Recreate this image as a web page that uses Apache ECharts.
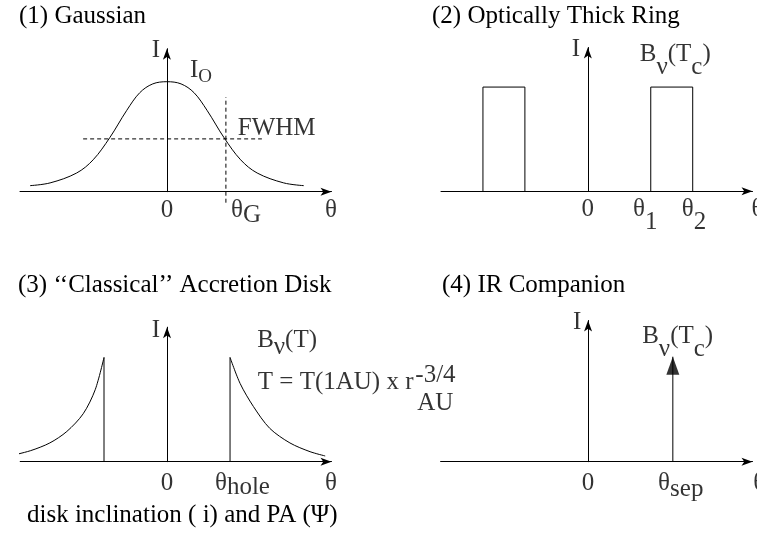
<!DOCTYPE html>
<html>
<head>
<meta charset="utf-8">
<script src="https://cdn.jsdelivr.net/npm/echarts/dist/echarts.min.js"></script>
<style>
  html, body { margin: 0; padding: 0; background: #fff; }
  #c { width: 757px; height: 535px; }
</style>
</head>
<body>
<div id="c"></div>
<script>
// ---- (1) Gaussian: θ in units of θ_G, I in units of I_o ----
const gaussTheta = [-2.32, -1.98, -1.53, -1.25, -0.97, -0.68, -0.46, -0.24, 0, 0.24, 0.46, 0.68, 0.97, 1.25, 1.53, 1.98, 2.32];
const gaussI     = [0.055, 0.08, 0.17, 0.29, 0.49, 0.74, 0.90, 0.98, 1.0, 0.98, 0.90, 0.74, 0.49, 0.29, 0.17, 0.08, 0.055];
const fwhmLevel = 0.48;
const fwhmSpan = [-1.42, 1.61];
const thetaG = 1.0;
const thetaGMarkSpan = [-0.1, 0.86];

// ---- (2) Optically thick ring: θ in units of θ_2, I in units of B_ν(T_c) ----
const ringTheta1 = 0.6;
const ringTheta2 = 1.0;
const ringLevel = 1.0;

// ---- (3) Classical accretion disk: θ in units of θ_hole ----
const diskLeftTheta  = [-2.5, -2.17, -1.86, -1.59, -1.33, -1.14, -1.0];
const diskLeftI      = [0.055, 0.105, 0.18, 0.29, 0.46, 0.69, 1.0];
const diskRightTheta = [1.0, 1.16, 1.37, 1.63, 1.95, 2.27, 2.51];
const diskRightI     = [1.0, 0.75, 0.53, 0.32, 0.18, 0.096, 0.055];
const thetaHole = 1.0;

// ---- (4) IR companion: θ in units of θ_sep ----
const thetaSep = 1.0;
const companionI = 1.0;

// axis extents of the four panels
const thetaMin = [-2.49, -1.40, -2.33, -1.74];
const thetaMax = [2.79, 1.57, 2.61, 1.94];
const intensityMax = [1.30, 1.38, 1.29, 1.345];

// panel titles and annotations
const titles = ['(1) Gaussian', '(2) Optically Thick Ring', '(3) \u2018\u2018Classical\u2019\u2019 Accretion Disk', '(4) IR Companion'];
const footnote = 'disk inclination ( i) and PA (\u03A8)';

const FONT = 'Liberation Serif';
const FS = 25;
const BLACK = '#000';

// main text is top-aligned in its line, subscripts are bottom-aligned;
// the extra line height of a subscript style sets how far it drops
const rich = {
  m: { fontFamily: FONT, fontSize: FS, color: BLACK, lineHeight: FS, verticalAlign: 'top' },
  o: { fontFamily: FONT, fontSize: 19, color: BLACK, lineHeight: 29, verticalAlign: 'bottom' }
};
[4, 5, 6, 7, 13].forEach(d => {
  rich['s' + d] = { fontFamily: FONT, fontSize: FS, color: BLACK, lineHeight: FS + d, verticalAlign: 'bottom' };
});

// text annotations per panel: [θ, I, text, align]
const panelLabels = [
  [
    [-0.186, 1.28, '{m|I}', 'center'],
    [0.39, 1.084, '{m|I}{o|O}', 'left'],
    [1.86, 0.575, '{m|FWHM}', 'center'],
    [0, -0.166, '{m|0}', 'center'],
    [1.085, -0.19, '{m|\u03B8}{s5|G}', 'left'],
    [2.78, -0.166, '{m|\u03B8}', 'center']
  ],
  [
    [-0.114, 1.36, '{m|I}', 'center'],
    [0.495, 1.247, '{m|B}{s7|\u03BD}{m|(T}{s13|c}{m|)}', 'left'],
    [0, -0.176, '{m|0}', 'center'],
    [0.43, -0.238, '{m|\u03B8}{s13|1}', 'left'],
    [0.895, -0.238, '{m|\u03B8}{s13|2}', 'left'],
    [1.56, -0.176, '{m|\u03B8}', 'left']
  ],
  [
    [-0.175, 1.262, '{m|I}', 'center'],
    [1.43, 1.132, '{m|B}{s7|\u03BD}{m|(T)}', 'left'],
    [1.44, 0.759, '{m|T = T(1AU) x r}', 'left'],
    [3.94, 0.83, '{m|-3/4}', 'left'],
    [3.97, 0.557, '{m|AU}', 'left'],
    [0, -0.204, '{m|0}', 'center'],
    [0.76, -0.224, '{m|\u03B8}{s4|hole}', 'left'],
    [2.60, -0.204, '{m|\u03B8}', 'center']
  ],
  [
    [-0.13, 1.326, '{m|I}', 'center'],
    [0.638, 1.13, '{m|B}{s7|\u03BD}{m|(T}{s13|c}{m|)}', 'left'],
    [0, -0.203, '{m|0}', 'center'],
    [0.826, -0.232, '{m|\u03B8}{s6|sep}', 'left'],
    [1.948, -0.203, '{m|\u03B8}', 'left']
  ]
];

const zip = (xs, ys) => xs.map((x, i) => [x, ys[i]]);

// grid boxes (pixels)
const grids = [
  { left: 20, top: 48.7, width: 311.5, height: 143 },
  { left: 441, top: 47.5, width: 311.5, height: 143.7 },
  { left: 20.2, top: 327.2, width: 311.3, height: 134.5 },
  { left: 440.6, top: 320.5, width: 311.9, height: 141.2 }
];

const axisLine = {
  show: true,
  onZero: true,
  symbol: ['none', 'arrow'],
  symbolSize: [6, 11],
  lineStyle: { color: BLACK, width: 1 }
};
const bare = {
  type: 'value',
  axisLine: axisLine,
  axisTick: { show: false },
  axisLabel: { show: false },
  splitLine: { show: false }
};

const lineStyle = { color: BLACK, width: 1 };
const dashed = { color: BLACK, width: 1, type: [4, 3] };
function curve(i, data, extra) {
  return Object.assign({
    type: 'line', xAxisIndex: i, yAxisIndex: i, data: data,
    symbol: 'none', silent: true, clip: false,
    lineStyle: lineStyle
  }, extra || {});
}

const series = [
  // (1)
  curve(0, zip(gaussTheta, gaussI), { smooth: 0.35 }),
  curve(0, [[fwhmSpan[0], fwhmLevel], [fwhmSpan[1], fwhmLevel]], { lineStyle: dashed }),
  curve(0, [[thetaG, thetaGMarkSpan[0]], [thetaG, thetaGMarkSpan[1]]], { lineStyle: dashed }),
  // (2)
  curve(1, [[-ringTheta2, 0], [-ringTheta2, ringLevel], [-ringTheta1, ringLevel], [-ringTheta1, 0]]),
  curve(1, [[ringTheta1, 0], [ringTheta1, ringLevel], [ringTheta2, ringLevel], [ringTheta2, 0]]),
  // (3)
  curve(2, zip(diskLeftTheta, diskLeftI), { smooth: 0.3 }),
  curve(2, [[-thetaHole, 0], [-thetaHole, diskLeftI[diskLeftI.length - 1]]]),
  curve(2, zip(diskRightTheta, diskRightI), { smooth: 0.3 }),
  curve(2, [[thetaHole, 0], [thetaHole, diskRightI[0]]]),
  // (4)
  curve(3, [[thetaSep, 0], [thetaSep, companionI]]),
  {
    type: 'scatter', xAxisIndex: 3, yAxisIndex: 3, silent: true, clip: false,
    symbol: 'triangle', symbolSize: [13, 18], symbolOffset: [0, 9],
    itemStyle: { color: BLACK },
    data: [[thetaSep, companionI]]
  }
];

panelLabels.forEach((labels, i) => {
  series.push({
    type: 'scatter', xAxisIndex: i, yAxisIndex: i, silent: true, clip: false,
    symbolSize: 0,
    data: labels.map(l => ({
      value: [l[0], l[1]],
      label: {
        show: true, position: 'inside', formatter: l[2],
        align: l[3], verticalAlign: 'middle', rich: rich
      }
    }))
  });
});

const titleStyle = { fontFamily: FONT, fontSize: FS, fontWeight: 'normal', color: BLACK };
const titlePos = [[19, 4], [432, 4], [18, 273], [442, 273]];

const option = {
  animation: false,
  backgroundColor: '#fff',
  title: titles.map((t, i) => ({
    text: t, left: titlePos[i][0], top: titlePos[i][1], padding: 0, textStyle: titleStyle
  })).concat([{ text: footnote, left: 27, top: 503, padding: 0, textStyle: titleStyle }]),
  grid: grids,
  xAxis: grids.map((g, i) => Object.assign({}, bare, { gridIndex: i, min: thetaMin[i], max: thetaMax[i] })),
  yAxis: grids.map((g, i) => Object.assign({}, bare, { gridIndex: i, min: 0, max: intensityMax[i] })),
  series: series
};

const chart = echarts.init(document.getElementById('c'), null, { renderer: 'canvas' });
chart.setOption(option);
</script>
</body>
</html>
